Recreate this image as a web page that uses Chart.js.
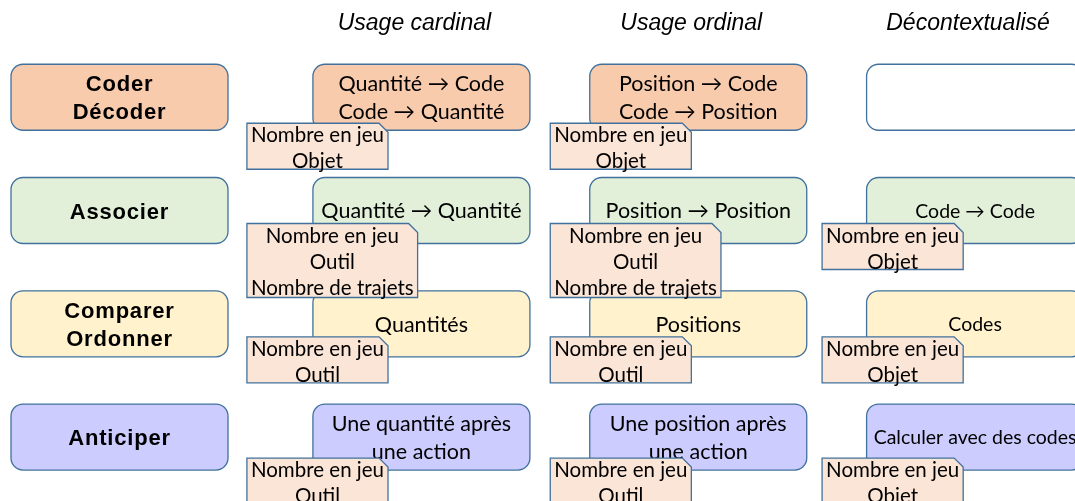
<!DOCTYPE html>
<html>
<head>
<meta charset="utf-8">
<script src="https://cdn.jsdelivr.net/npm/chart.js@4.4.0/dist/chart.umd.min.js"></script>
<style>
  html, body { margin: 0; padding: 0; overflow: hidden; background: #fff; }
  #wrap { position: absolute; left: 0; top: 0; }
</style>
</head>
<body>
<div id="wrap"><canvas id="grid" width="1120" height="520"></canvas></div>
<script>
// columns (x categories) and rows (y categories)
const columns = ['Usage cardinal', 'Usage ordinal', 'Décontextualisé'];
const rowNames = ['Coder Décoder', 'Associer', 'Comparer Ordonner', 'Anticiper'];
const rowLines = [['Coder', 'Décoder'], ['Associer'], ['Comparer', 'Ordonner'], ['Anticiper']];

// cell texts, one array per column
const cardinalCells = [['Quantité → Code', 'Code → Quantité'], ['Quantité → Quantité'], ['Quantités'], ['Une quantité après', 'une action']];
const ordinalCells = [['Position → Code', 'Code → Position'], ['Position → Position'], ['Positions'], ['Une position après', 'une action']];
const decontextCells = [[], ['Code → Code'], ['Codes'], ['Calculer avec des codes']];

// notes stuck on each cell
const cardinalNotes = [['Nombre en jeu', 'Objet'], ['Nombre en jeu', 'Outil', 'Nombre de trajets'], ['Nombre en jeu', 'Outil'], ['Nombre en jeu', 'Outil']];
const ordinalNotes = [['Nombre en jeu', 'Objet'], ['Nombre en jeu', 'Outil', 'Nombre de trajets'], ['Nombre en jeu', 'Outil'], ['Nombre en jeu', 'Outil']];
const decontextNotes = [null, ['Nombre en jeu', 'Objet'], ['Nombre en jeu', 'Objet'], ['Nombre en jeu', 'Objet']];

const allCells = [cardinalCells, ordinalCells, decontextCells];
const allNotes = [cardinalNotes, ordinalNotes, decontextNotes];

// styles
const rowFills = ['#F8CBAD', '#E2F0D9', '#FFF2CC', '#CCCCFF'];
const lineColor = '#41719C';
const noteFill = '#FBE5D6';

function boxPath(ctx, x, y, w, h, r){
  ctx.beginPath();
  ctx.moveTo(x + r, y);
  ctx.lineTo(x + w - r, y);
  ctx.arcTo(x + w, y, x + w, y + r, r);
  ctx.lineTo(x + w, y + h - r);
  ctx.arcTo(x + w, y + h, x + w - r, y + h, r);
  ctx.lineTo(x + r, y + h);
  ctx.arcTo(x, y + h, x, y + h - r, r);
  ctx.lineTo(x, y + r);
  ctx.arcTo(x, y, x + r, y, r);
  ctx.closePath();
}

function drawBox(ctx, cx, cy, o, fill){
  boxPath(ctx, cx - o.boxW/2, cy - o.boxH/2, o.boxW, o.boxH, o.radius);
  ctx.fillStyle = fill;
  ctx.fill();
  ctx.lineWidth = 1.3;
  ctx.strokeStyle = lineColor;
  ctx.stroke();
}

function drawLines(ctx, arr, cx, cy, gap){
  arr.forEach((t, i) => ctx.fillText(t, cx, cy + (i - (arr.length - 1)/2) * gap));
}

function drawNote(ctx, arr, left, top, o){
  ctx.font = o.noteFont;
  const w = Math.max(...arr.map(t => ctx.measureText(t).width)) + 8;
  const h = arr.length * 28 - 10;
  const f = 9;
  ctx.beginPath();
  ctx.moveTo(left, top);
  ctx.lineTo(left + w - f, top);
  ctx.lineTo(left + w, top + f);
  ctx.lineTo(left + w, top + h);
  ctx.lineTo(left, top + h);
  ctx.closePath();
  ctx.fillStyle = noteFill;
  ctx.fill();
  ctx.lineWidth = 1.3;
  ctx.strokeStyle = lineColor;
  ctx.stroke();
  ctx.fillStyle = '#000';
  ctx.textAlign = 'center';
  ctx.textBaseline = 'middle';
  arr.forEach((t, i) => ctx.fillText(t, left + w/2, top + 12.5 + i * 26));
}

const cellPlugin = {
  id: 'cells',
  afterDatasetsDraw(chart, args, o){
    const ctx = chart.ctx;
    const yScale = chart.scales.y;
    ctx.save();
    ctx.textAlign = 'center';
    ctx.textBaseline = 'middle';
    // row headers
    rowLines.forEach((lines, r) => {
      const cy = yScale.getPixelForValue(r);
      drawBox(ctx, o.headerX, cy, o, rowFills[r]);
      ctx.fillStyle = '#000';
      ctx.font = o.headerFont;
      ctx.letterSpacing = '0.8px';
      drawLines(ctx, lines, o.headerX, cy + 2, 28);
      ctx.letterSpacing = '0px';
    });
    // cells
    chart.data.datasets.forEach((ds, c) => {
      chart.getDatasetMeta(c).data.forEach((pt, r) => {
        const txt = allCells[c][r];
        drawBox(ctx, pt.x, pt.y, o, txt.length ? rowFills[r] : '#fff');
        ctx.fillStyle = '#000';
        ctx.font = o.cellFonts[c];
        drawLines(ctx, txt, pt.x, pt.y + 1, 28);
      });
    });
    // notes on top
    chart.data.datasets.forEach((ds, c) => {
      chart.getDatasetMeta(c).data.forEach((pt, r) => {
        const n = allNotes[c][r];
        if (n) drawNote(ctx, n, pt.x + o.noteDx[c], pt.y + o.noteDy[r], o);
      });
    });
    ctx.restore();
  }
};

const datasets = columns.map(col => ({
  label: col,
  data: rowNames.map(row => ({ x: col, y: row })),
  pointRadius: 0
}));

new Chart(document.getElementById('grid'), {
  type: 'scatter',
  data: { datasets },
  plugins: [cellPlugin],
  options: {
    responsive: false,
    animation: false,
    layout: { padding: { left: 283, right: 6.5, top: 7, bottom: 26.3 } },
    scales: {
      x: {
        type: 'category', labels: columns, position: 'top', offset: true,
        grid: { display: false, drawTicks: false }, border: { display: false },
        ticks: { color: '#000', labelOffset: -7, font: { family: 'Liberation Sans', size: 23, style: 'italic' } }
      },
      y: {
        type: 'category', labels: rowNames, offset: true, display: false
      }
    },
    plugins: {
      legend: { display: false },
      tooltip: { enabled: false },
      cells: {
        headerX: 119.5,
        boxW: 217, boxH: 66, radius: 12,
        headerFont: 'bold 22px "Liberation Sans"',
        cellFonts: ['21.5px Lato', '21.5px Lato', '19.5px Lato'],
        noteFont: '20.5px Lato',
        noteDx: [-174.5, -148, -153],
        noteDy: [26, 13, 13, 21]
      }
    }
  }
});
</script>
</body>
</html>
